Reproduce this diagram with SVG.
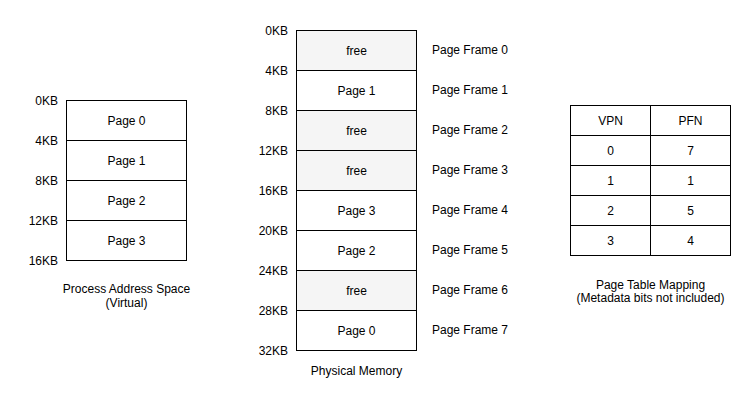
<svg xmlns="http://www.w3.org/2000/svg" width="751" height="401" viewBox="0 0 751 401">
<style>
text{font-family:"Liberation Sans",Arial,Helvetica,sans-serif;font-size:12px;fill:#000}
.c{text-anchor:middle}
.r{text-anchor:end}
.box{fill:#fff;stroke:#000;stroke-width:1}
.free{fill:#f5f5f5;stroke:#000;stroke-width:1}
</style>
<rect width="751" height="401" fill="#fff"/>
<g id="virtual">
<g id="v0"><rect class="box" x="66.5" y="100.5" width="120" height="40"/><text class="c" x="126.5" y="125">Page 0</text></g>
<g id="v1"><rect class="box" x="66.5" y="140.5" width="120" height="40"/><text class="c" x="126.5" y="165">Page 1</text></g>
<g id="v2"><rect class="box" x="66.5" y="180.5" width="120" height="40"/><text class="c" x="126.5" y="205">Page 2</text></g>
<g id="v3"><rect class="box" x="66.5" y="220.5" width="120" height="40"/><text class="c" x="126.5" y="245">Page 3</text></g>
<g id="vlabels">
<text class="r" x="58" y="104.5">0KB</text>
<text class="r" x="58" y="144.5">4KB</text>
<text class="r" x="58" y="184.5">8KB</text>
<text class="r" x="58" y="224.5">12KB</text>
<text class="r" x="58" y="264.5">16KB</text>
<text class="c" x="126.5" y="293">Process Address Space</text>
<text class="c" x="126.5" y="307">(Virtual)</text>
</g>
</g>
<g id="physical">
<g id="f0"><rect class="free" x="296.5" y="30.5" width="120" height="40"/><text class="c" x="356.5" y="55">free</text><text x="432" y="54">Page Frame 0</text></g>
<g id="f1"><rect class="box" x="296.5" y="70.5" width="120" height="40"/><text class="c" x="356.5" y="95">Page 1</text><text x="432" y="94">Page Frame 1</text></g>
<g id="f2"><rect class="free" x="296.5" y="110.5" width="120" height="40"/><text class="c" x="356.5" y="135">free</text><text x="432" y="134">Page Frame 2</text></g>
<g id="f3"><rect class="free" x="296.5" y="150.5" width="120" height="40"/><text class="c" x="356.5" y="175">free</text><text x="432" y="174">Page Frame 3</text></g>
<g id="f4"><rect class="box" x="296.5" y="190.5" width="120" height="40"/><text class="c" x="356.5" y="215">Page 3</text><text x="432" y="214">Page Frame 4</text></g>
<g id="f5"><rect class="box" x="296.5" y="230.5" width="120" height="40"/><text class="c" x="356.5" y="255">Page 2</text><text x="432" y="254">Page Frame 5</text></g>
<g id="f6"><rect class="free" x="296.5" y="270.5" width="120" height="40"/><text class="c" x="356.5" y="295">free</text><text x="432" y="294">Page Frame 6</text></g>
<g id="f7"><rect class="box" x="296.5" y="310.5" width="120" height="40"/><text class="c" x="356.5" y="335">Page 0</text><text x="432" y="334">Page Frame 7</text></g>
<g id="plabels">
<text class="r" x="288" y="34.5">0KB</text>
<text class="r" x="288" y="74.5">4KB</text>
<text class="r" x="288" y="114.5">8KB</text>
<text class="r" x="288" y="154.5">12KB</text>
<text class="r" x="288" y="194.5">16KB</text>
<text class="r" x="288" y="234.5">20KB</text>
<text class="r" x="288" y="274.5">24KB</text>
<text class="r" x="288" y="314.5">28KB</text>
<text class="r" x="288" y="354.5">32KB</text>
<text class="c" x="356.5" y="375">Physical Memory</text>
</g>
</g>
<g id="pagetable">
<g id="hdr"><rect class="box" x="570.5" y="105.5" width="80" height="30"/><rect class="box" x="650.5" y="105.5" width="80" height="30"/><text class="c" x="610.5" y="125">VPN</text><text class="c" x="690.5" y="125">PFN</text></g>
<g id="row0"><rect class="box" x="570.5" y="135.5" width="80" height="30"/><rect class="box" x="650.5" y="135.5" width="80" height="30"/><text class="c" x="610.5" y="155">0</text><text class="c" x="690.5" y="155">7</text></g>
<g id="row1"><rect class="box" x="570.5" y="165.5" width="80" height="30"/><rect class="box" x="650.5" y="165.5" width="80" height="30"/><text class="c" x="610.5" y="185">1</text><text class="c" x="690.5" y="185">1</text></g>
<g id="row2"><rect class="box" x="570.5" y="195.5" width="80" height="30"/><rect class="box" x="650.5" y="195.5" width="80" height="30"/><text class="c" x="610.5" y="215">2</text><text class="c" x="690.5" y="215">5</text></g>
<g id="row3"><rect class="box" x="570.5" y="225.5" width="80" height="30"/><rect class="box" x="650.5" y="225.5" width="80" height="30"/><text class="c" x="610.5" y="245">3</text><text class="c" x="690.5" y="245">4</text></g>
<text class="c" x="650.5" y="289">Page Table Mapping</text>
<text class="c" x="650.5" y="302">(Metadata bits not included)</text>
</g>
</svg>
